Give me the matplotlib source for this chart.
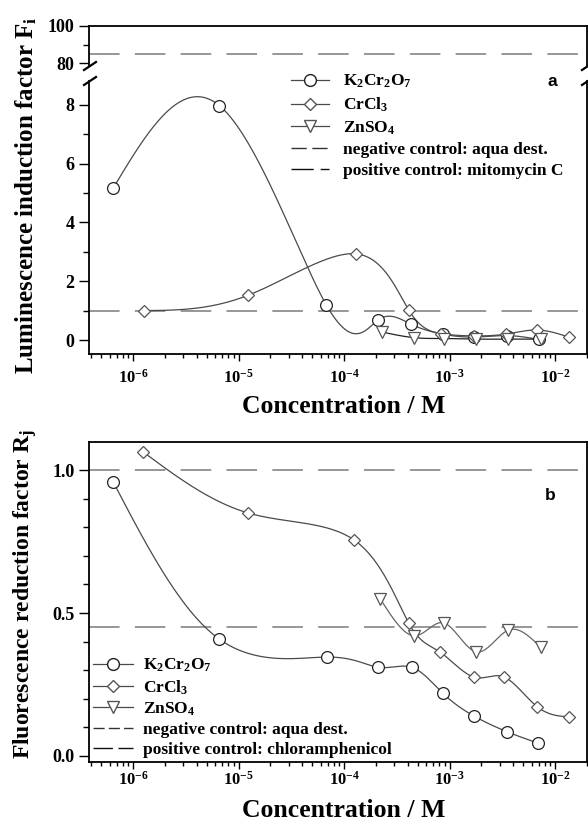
import numpy as np
import matplotlib
matplotlib.use("Agg")
import matplotlib.pyplot as plt
from matplotlib.lines import Line2D
from matplotlib.ticker import FixedLocator, LogLocator, NullFormatter, LogFormatterSciNotation, FormatStrFormatter

plt.rcParams['font.family'] = ['Liberation Serif', 'DejaVu Serif']
plt.rcParams['font.weight'] = 'bold'
plt.rcParams['mathtext.fontset'] = 'custom'
plt.rcParams['mathtext.rm'] = 'Liberation Serif:bold'
plt.rcParams['mathtext.it'] = 'Liberation Serif:bold'
plt.rcParams['mathtext.bf'] = 'Liberation Serif:bold'
plt.rcParams['mathtext.default'] = 'rm'

# ---------------- data ----------------
# Panel a: luminescence induction factor
k2_conc_a = [6.5e-7, 6.6e-6, 6.8e-5, 2.1e-4, 4.3e-4, 8.6e-4, 1.7e-3, 3.5e-3, 7.0e-3]
k2_val_a = [5.17, 7.97, 1.19, 0.68, 0.54, 0.20, 0.10, 0.15, 0.02]
cr_conc_a = [1.26e-6, 1.23e-5, 1.3e-4, 4.1e-4, 8.3e-4, 1.7e-3, 3.4e-3, 6.8e-3, 1.35e-2]
cr_val_a = [1.0, 1.52, 2.93, 1.02, 0.22, 0.14, 0.20, 0.34, 0.10]
zn_conc_a = [2.3e-4, 4.6e-4, 8.9e-4, 1.8e-3, 3.6e-3, 7.3e-3]
zn_val_a = [0.27, 0.08, 0.05, 0.03, 0.03, 0.03]
neg_ctrl_a = 1.0
pos_ctrl_a = 85.0

# Panel b: fluorescence reduction factor
k2_conc_b = [6.5e-7, 6.5e-6, 6.9e-5, 2.1e-4, 4.4e-4, 8.6e-4, 1.7e-3, 3.5e-3, 6.9e-3]
k2_val_b = [0.958, 0.41, 0.346, 0.31, 0.31, 0.22, 0.14, 0.085, 0.045]
cr_conc_b = [1.25e-6, 1.23e-5, 1.25e-4, 4.1e-4, 8.1e-4, 1.7e-3, 3.3e-3, 6.8e-3, 1.35e-2]
cr_val_b = [1.063, 0.85, 0.755, 0.465, 0.364, 0.276, 0.276, 0.172, 0.137]
zn_conc_b = [2.2e-4, 4.6e-4, 8.9e-4, 1.8e-3, 3.6e-3, 7.3e-3]
zn_val_b = [0.55, 0.42, 0.465, 0.364, 0.44, 0.38]
neg_ctrl_b = 1.0
pos_ctrl_b = 0.45

legend_a = [r'K$_2$Cr$_2$O$_7$', r'CrCl$_3$', r'ZnSO$_4$',
            'negative control: aqua dest.', 'positive control: mitomycin C']
legend_b = [r'K$_2$Cr$_2$O$_7$', r'CrCl$_3$', r'ZnSO$_4$',
            'negative control: aqua dest.', 'positive control: chloramphenicol']


def natural_spline(t, y, tt):
    t = np.asarray(t, float)
    y = np.asarray(y, float)
    m = len(t)
    h = np.diff(t)
    A = np.zeros((m, m))
    r = np.zeros(m)
    A[0, 0] = 1
    A[-1, -1] = 1
    for i in range(1, m - 1):
        A[i, i - 1] = h[i - 1]
        A[i, i] = 2 * (h[i - 1] + h[i])
        A[i, i + 1] = h[i]
        r[i] = 6 * ((y[i + 1] - y[i]) / h[i] - (y[i] - y[i - 1]) / h[i - 1])
    M = np.linalg.solve(A, r)
    idx = np.clip(np.searchsorted(t, tt) - 1, 0, m - 2)
    t0, t1 = t[idx], t[idx + 1]
    hh = t1 - t0
    a = (t1 - tt) / hh
    b = (tt - t0) / hh
    return (a * y[idx] + b * y[idx + 1]
            + ((a ** 3 - a) * M[idx] + (b ** 3 - b) * M[idx + 1]) * hh ** 2 / 6)


def smooth_curve(ax, xs, ys, n=600):
    """Parametric cubic spline (uniform parameter) through the points, in display space."""
    pts = ax.transData.transform(np.column_stack([xs, ys]))
    t = np.arange(len(xs), dtype=float)
    tt = np.linspace(0, t[-1], n)
    px = natural_spline(t, pts[:, 0], tt)
    py = natural_spline(t, pts[:, 1], tt)
    data = ax.transData.inverted().transform(np.column_stack([px, py]))
    return data[:, 0], data[:, 1]


W, H = 588, 832
fig = plt.figure(figsize=(W / 100, H / 100), dpi=100)


def fx(px):
    return px / W


def fy(py):
    return 1 - py / H


L, R = 89, 587
XLIM = (10 ** -6.417, 10 ** -1.697)

line_col = '#4a4a4a'
dash_col = '#7a7a7a'
spine_w = 1.3

ax_up = fig.add_axes([fx(L), fy(66), fx(R - L), (66 - 26) / H])
ax_a = fig.add_axes([fx(L), fy(354), fx(R - L), (354 - 81) / H])
ax_b = fig.add_axes([fx(L), fy(762), fx(R - L), (762 - 442) / H])

for ax in (ax_up, ax_a, ax_b):
    ax.set_xscale('log')
    ax.set_xlim(*XLIM)
    for s in ax.spines.values():
        s.set_linewidth(spine_w)
    ax.tick_params(which='both', direction='out', width=1.0,
                   top=False, right=False)
    ax.tick_params(axis='y', labelsize=13)
    ax.tick_params(axis='x', labelsize=12)
    ax.tick_params(which='major', axis='y', length=7)
    ax.tick_params(which='minor', axis='y', length=4)
    ax.tick_params(which='major', axis='x', length=5)
    ax.tick_params(which='minor', axis='x', length=3)
    ax.xaxis.set_major_locator(LogLocator(base=10, numticks=10))
    ax.xaxis.set_minor_locator(LogLocator(base=10, subs=np.arange(2, 10), numticks=20))
    ax.xaxis.set_minor_formatter(NullFormatter())

# ---------- upper (broken) part of panel a ----------
ax_up.set_ylim(78.4, 100)
ax_up.yaxis.set_major_locator(FixedLocator([80, 100]))
ax_up.yaxis.set_minor_locator(FixedLocator([90]))
ax_up.spines['bottom'].set_visible(False)
ax_up.tick_params(axis='x', which='both', bottom=False, labelbottom=False)
ax_up.axhline(pos_ctrl_a, color=dash_col, lw=1.1, dashes=(20, 10))

# ---------- panel a ----------
ax_a.set_ylim(-0.476, 8.81)
ax_a.yaxis.set_major_locator(FixedLocator([0, 2, 4, 6, 8]))
ax_a.yaxis.set_minor_locator(FixedLocator([1, 3, 5, 7]))
ax_a.spines['top'].set_visible(False)
ax_a.tick_params(axis='x', which='major', pad=6)
ax_a.xaxis.set_major_formatter(LogFormatterSciNotation())
ax_a.axhline(neg_ctrl_a, color=dash_col, lw=1.1, dashes=(20, 10))

mk = dict(mfc='white', mew=0.9, ls='none', zorder=5)
sx, sy = smooth_curve(ax_a, k2_conc_a, k2_val_a)
ax_a.plot(sx, sy, color=line_col, lw=0.9)
ax_a.plot(k2_conc_a, k2_val_a, marker='o', ms=8.5, mec='#222222', **mk)
sx, sy = smooth_curve(ax_a, cr_conc_a, cr_val_a)
ax_a.plot(sx, sy, color=line_col, lw=0.9)
ax_a.plot(cr_conc_a, cr_val_a, marker='D', ms=6.3, mec='#555555', **mk)
sx, sy = smooth_curve(ax_a, zn_conc_a, zn_val_a)
ax_a.plot(sx, sy, color='#222222', lw=0.9)
ax_a.plot(zn_conc_a, zn_val_a, marker='v', ms=8.5, mec='#555555', **mk)

ax_a.set_xlabel('Concentration / M', fontsize=18.5, fontweight='bold')
ax_a.xaxis.set_label_coords(0.512, -0.150)
ax_a.xaxis.label.set_va('top')
ax_a.set_ylabel(r'Luminescence induction factor F$_\mathrm{i}$', fontsize=18,
                fontweight='bold')
ax_a.yaxis.set_label_coords(-0.100, 0.582)

# break marks
for xx in (L, R):
    for y0 in (70, 85):
        fig.add_artist(Line2D([fx(xx - 5), fx(xx + 7)], [fy(y0), fy(y0 - 8)],
                              color='black', lw=1.6))

fig.text(fx(552), fy(82), 'a', family='Liberation Sans', fontweight='bold',
         fontsize=12.5, ha='center', va='center')


def handles(neg_dash, pos_dash):
    return [
        Line2D([], [], color=line_col, lw=0.9, marker='o', ms=8.5, mfc='white', mec='#222222'),
        Line2D([], [], color=line_col, lw=0.9, marker='D', ms=6.3, mfc='white', mec='#555555'),
        Line2D([], [], color=line_col, lw=0.9, marker='v', ms=8.5, mfc='white', mec='#555555'),
        Line2D([], [], color='#333333', lw=1.0, dashes=neg_dash),
        Line2D([], [], color='#111111', lw=1.0, dashes=pos_dash),
    ]


fig.legend(handles((11, 4), (16, 5)), legend_a, loc='upper left',
           bbox_to_anchor=(fx(291), fy(73)), frameon=False,
           handlelength=2.2, handletextpad=0.8, labelspacing=0.3,
           borderpad=0, borderaxespad=0,
           prop={'family': 'Liberation Serif', 'weight': 'bold', 'size': 12.5})

# ---------- panel b ----------
ax_b.set_ylim(-0.021, 1.098)
ax_b.yaxis.set_major_locator(FixedLocator([0.0, 0.5, 1.0]))
ax_b.yaxis.set_minor_locator(FixedLocator([0.1, 0.2, 0.3, 0.4, 0.6, 0.7, 0.8, 0.9]))
ax_b.yaxis.set_major_formatter(FormatStrFormatter('%.1f'))
ax_b.tick_params(axis='x', which='major', pad=1)
ax_b.xaxis.set_major_formatter(LogFormatterSciNotation())
ax_b.axhline(neg_ctrl_b, color=dash_col, lw=1.1, dashes=(20, 10))
ax_b.axhline(pos_ctrl_b, color=dash_col, lw=1.1, dashes=(20, 10))

sx, sy = smooth_curve(ax_b, k2_conc_b, k2_val_b)
ax_b.plot(sx, sy, color=line_col, lw=0.9)
ax_b.plot(k2_conc_b, k2_val_b, marker='o', ms=8.5, mec='#222222', **mk)
sx, sy = smooth_curve(ax_b, cr_conc_b, cr_val_b)
ax_b.plot(sx, sy, color=line_col, lw=0.9)
ax_b.plot(cr_conc_b, cr_val_b, marker='D', ms=6.3, mec='#555555', **mk)
sx, sy = smooth_curve(ax_b, zn_conc_b, zn_val_b)
ax_b.plot(sx, sy, color='#666666', lw=0.9)
ax_b.plot(zn_conc_b, zn_val_b, marker='v', ms=8.5, mec='#555555', **mk)

ax_b.set_xlabel('Concentration / M', fontsize=18.5, fontweight='bold')
ax_b.xaxis.set_label_coords(0.512, -0.116)
ax_b.xaxis.label.set_va('top')
ax_b.set_ylabel(r'Fluorescence reduction factor R$_\mathrm{j}$', fontsize=17,
                fontweight='bold')
ax_b.yaxis.set_label_coords(-0.100, 0.525)

fig.text(fx(550), fy(495), 'b', family='Liberation Sans', fontweight='bold',
         fontsize=12.5, ha='center', va='center')

fig.legend(handles((8, 3, 8, 3), (14, 4)), legend_b, loc='upper left',
           bbox_to_anchor=(fx(93), fy(657)), frameon=False,
           handlelength=2.3, handletextpad=0.6, labelspacing=0.22,
           borderpad=0, borderaxespad=0,
           prop={'family': 'Liberation Serif', 'weight': 'bold', 'size': 12.5})

fig.savefig('out.png', dpi=100)
